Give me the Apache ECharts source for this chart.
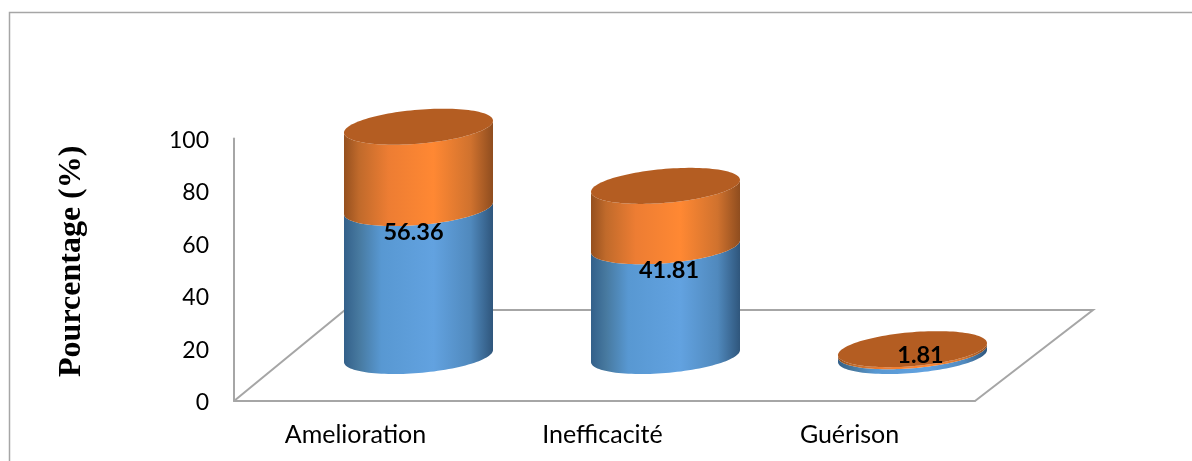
<!DOCTYPE html>
<html>
<head>
<meta charset="utf-8">
<style>html,body{margin:0;padding:0;background:#fff}#chart{width:1192px;height:461px}</style>
<script src="https://cdn.jsdelivr.net/npm/echarts@6/dist/echarts.min.js"></script>
</head>
<body>
<div id="chart"></div>
<script>
// Stacked cylinders on a tilted floor: the lower segment carries the labelled value.
const categories = ['Amelioration', 'Inefficacité', 'Guérison'];
const lowerValues = [56.36, 41.81, 1.81];
const upperValues = [31.0, 23.0, 0.8];
const valueTicks = [0, 20, 40, 60, 80, 100];

// Projection of the 3D scene onto the flat axes.
const floorDepth = { dx: 111, dy: -91 };
const barDepth = { dx: 61, dy: -45 };
// Sheared ellipse for the cylinder cross-section.
const rim = { halfWidth: 74.5, skew: 6, halfHeight: 17 };
// Hand placement of the value labels relative to the top of the lower segment.
const labelNudge = [[-5, 24.5], [3.5, 24.5], [8, 4]];

const lineGrey = '#a6a6a6';

function rimPoint(cx, cy, t) {
  return [
    cx + rim.halfWidth * Math.cos(t),
    cy - rim.skew * Math.cos(t) + rim.halfHeight * Math.sin(t)
  ];
}

// Lower half of the rim, running from the right edge round to the left edge.
function frontArc(cx, cy, reverse) {
  const pts = [];
  const steps = 60;
  for (let i = 0; i <= steps; i++) {
    const t = Math.PI * (reverse ? steps - i : i) / steps;
    pts.push(rimPoint(cx, cy, t));
  }
  return pts;
}

function fullRim(cx, cy) {
  const pts = [];
  const steps = 120;
  for (let i = 0; i < steps; i++) pts.push(rimPoint(cx, cy, 2 * Math.PI * i / steps));
  return pts;
}

function sideGradient(stops) {
  return {
    type: 'linear', x: 0, y: 0, x2: 1, y2: 0,
    colorStops: stops.map(s => ({ offset: s[0], color: s[1] }))
  };
}

const lowerFill = sideGradient([
  [0, '#33608a'], [0.1, '#47799f'], [0.25, '#5898d2'], [0.6, '#62a2e0'],
  [0.85, '#5089bd'], [1, '#2f567c']
]);
const upperFill = sideGradient([
  [0, '#95501f'], [0.1, '#c06a2b'], [0.3, '#ed7d33'], [0.6, '#ff8833'],
  [0.85, '#d0722e'], [1, '#8f4d1f']
]);

function segment(baseX, baseY, topY, fill) {
  return {
    type: 'polygon',
    shape: { points: frontArc(baseX, baseY, false).concat(frontArc(baseX, topY, true)) },
    style: { fill: fill }
  };
}

function renderLower(params, api) {
  const base = api.coord([api.value(0), 0]);
  const top = api.coord([api.value(0), api.value(1)]);
  const cx = base[0] + barDepth.dx;
  return segment(cx, base[1] + barDepth.dy, top[1] + barDepth.dy, lowerFill);
}

function renderUpper(params, api) {
  const start = api.coord([api.value(0), api.value(1)]);
  const end = api.coord([api.value(0), api.value(1) + api.value(2)]);
  const cx = start[0] + barDepth.dx;
  return {
    type: 'group',
    children: [
      segment(cx, start[1] + barDepth.dy, end[1] + barDepth.dy, upperFill),
      {
        type: 'polygon',
        shape: { points: fullRim(cx, end[1] + barDepth.dy) },
        style: { fill: '#b45d22' }
      }
    ]
  };
}

function renderValueLabel(params, api) {
  const p = api.coord([api.value(0), api.value(1)]);
  const nudge = labelNudge[params.dataIndex];
  return {
    type: 'text',
    x: p[0] + barDepth.dx + nudge[0],
    y: p[1] + barDepth.dy + nudge[1],
    style: {
      text: String(api.value(1).toFixed(2)),
      fill: '#000',
      font: 'bold 23.5px Lato',
      align: 'center',
      verticalAlign: 'middle'
    }
  };
}

// Back and side edges of the floor; the front and left edges are the axis lines.
function renderFloor(params, api) {
  const g = params.coordSys;
  const x0 = g.x, x1 = g.x + g.width, y0 = g.y + g.height;
  return {
    type: 'polyline',
    shape: {
      points: [
        [x0, y0],
        [x0 + floorDepth.dx, y0 + floorDepth.dy],
        [x1 + 118, y0 + floorDepth.dy],
        [x1, y0]
      ]
    },
    style: { fill: 'none', stroke: lineGrey, lineWidth: 2 }
  };
}

const chart = echarts.init(document.getElementById('chart'), null, { renderer: 'canvas' });
chart.setOption({
  animation: false,
  backgroundColor: '#ffffff',
  graphic: [{
    type: 'rect',
    shape: { x: 9.5, y: 12.5, width: 1300, height: 480 },
    style: { fill: 'none', stroke: lineGrey, lineWidth: 1.5 },
    silent: true
  }],
  grid: { left: 234, top: 138.5, width: 741, height: 262.5, containLabel: false },
  xAxis: {
    type: 'category',
    data: categories,
    axisLine: { lineStyle: { color: lineGrey, width: 2 } },
    axisTick: { show: false },
    axisLabel: { color: '#000', fontFamily: 'Lato', fontSize: 25, margin: 21, padding: [0, 4, 0, 0] }
  },
  yAxis: {
    type: 'value',
    min: 0,
    max: valueTicks[valueTicks.length - 1],
    interval: valueTicks[1] - valueTicks[0],
    name: 'Pourcentage (%)',
    nameLocation: 'middle',
    nameRotate: 90,
    nameGap: 146,
    nameTextStyle: {
      color: '#000',
      fontFamily: 'Liberation Serif',
      fontWeight: 'bold',
      fontSize: 32,
      padding: [0, 0, 0, 17]
    },
    axisLine: { show: true, lineStyle: { color: lineGrey, width: 2 } },
    axisTick: { show: false },
    splitLine: { show: false },
    axisLabel: {
      margin: 25,
      formatter: '{tick|{value}}',
      rich: { tick: { color: '#000', fontFamily: 'Lato', fontSize: 23, padding: [4, 0, 0, 0] } }
    }
  },
  series: [
    { type: 'custom', name: 'floor', renderItem: renderFloor, data: [[0, 0]], silent: true, z: 1 },
    {
      type: 'custom',
      name: 'lower',
      renderItem: renderLower,
      encode: { x: 0, y: 1 },
      data: lowerValues.map((v, i) => [i, v]),
      z: 2
    },
    {
      type: 'custom',
      name: 'upper',
      renderItem: renderUpper,
      encode: { x: 0, y: 1 },
      data: upperValues.map((v, i) => [i, lowerValues[i], v]),
      z: 3
    },
    {
      type: 'custom',
      name: 'values',
      renderItem: renderValueLabel,
      encode: { x: 0, y: 1 },
      data: lowerValues.map((v, i) => [i, v]),
      z: 4
    }
  ]
});
</script>
</body>
</html>
